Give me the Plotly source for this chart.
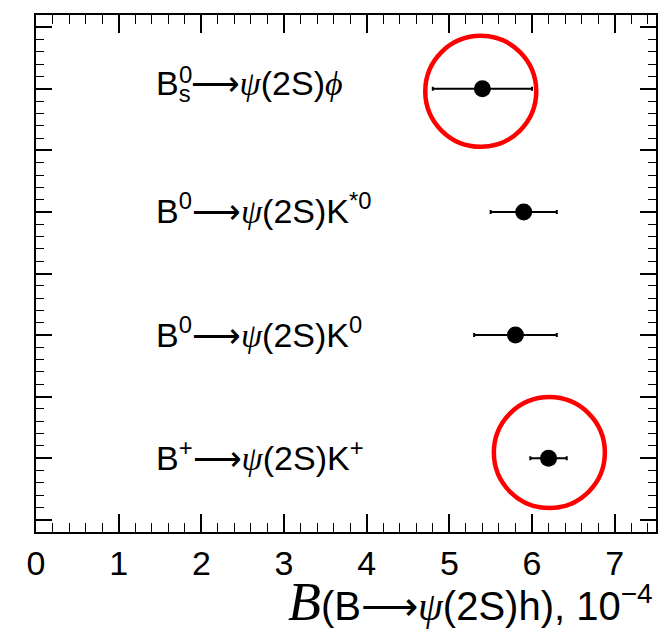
import plotly.graph_objects as go

# ---- data ----
decays = ["B+", "B0K0", "B0Kst0", "Bs"]
PSI = "<span style=\"font-family:'Liberation Serif'\"><i>ψ</i></span>"
PHI = "<span style=\"font-family:'Liberation Serif'\"><i>ϕ</i></span>"
labels = [
    "B<sup>+</sup>⟶" + PSI + "(2S)K<sup>+</sup>",
    "B<sup>0</sup>⟶" + PSI + "(2S)K<sup>0</sup>",
    "B<sup>0</sup>⟶" + PSI + "(2S)K<sup>*0</sup>",
    "B<sub>s</sub>⟶" + PSI + "(2S)" + PHI,
]
row_pos = [1, 2, 3, 4]
bf_values = [6.2, 5.8, 5.9, 5.4]
bf_errors = [0.22, 0.5, 0.4, 0.6]
circle_x = [6.21, 5.38]
circle_y = [1.045, 3.98]
x_ticks = [0, 1, 2, 3, 4, 5, 6, 7]

fig = go.Figure()

fig.add_trace(go.Scatter(
    x=bf_values, y=row_pos, mode="markers",
    marker=dict(color="black", size=17, line=dict(width=0)),
    error_x=dict(type="data", array=bf_errors, color="black", thickness=2, width=2),
    showlegend=False, hoverinfo="skip",
))

fig.add_trace(go.Scatter(
    x=circle_x, y=circle_y, mode="markers",
    marker=dict(symbol="circle-open", color="#ff0000", size=111,
                line=dict(width=4.5, color="#ff0000")),
    showlegend=False, hoverinfo="skip",
))

SANS = "Liberation Sans, Arial, sans-serif"
label_font = dict(family=SANS, size=34, color="black")
for y, t in zip(row_pos, labels):
    fig.add_annotation(x=1.43, y=y, xref="x", yref="y", text=t, showarrow=False,
                       xanchor="left", yanchor="middle", yshift=3, font=label_font)
# stacked superscript 0 above subscript s for B_s
fig.add_annotation(x=1.43, y=row_pos[3], xref="x", yref="y", text="0", showarrow=False,
                   xanchor="left", yanchor="middle", xshift=23, yshift=14,
                   font=dict(family=SANS, size=24, color="black"))

# x-axis title
fig.add_annotation(
    x=1, y=-0.135, xref="paper", yref="paper", xanchor="right", yanchor="middle",
    xshift=-1, showarrow=False,
    text=("<span style=\"font-family:'Liberation Serif';font-size:54px\"><i>B</i></span>"
          "(B⟶" + PSI + "(2S)h), 10<sup>−4</sup>"),
    font=dict(family=SANS, size=40, color="black"),
)

fig.update_layout(
    width=666, height=634,
    margin=dict(l=36, r=8, t=15, b=102),
    paper_bgcolor="white", plot_bgcolor="white",
    font=dict(family=SANS, color="black"),
    xaxis=dict(
        range=[0, 7.5], tickvals=x_ticks, ticktext=[str(v) for v in x_ticks],
        ticks="inside", ticklen=18, tickwidth=1.5, tickcolor="black",
        minor=dict(dtick=0.2, tick0=0, ticks="inside", ticklen=9, tickwidth=1.2, tickcolor="black"),
        showline=True, linecolor="black", linewidth=2, mirror="ticks",
        showgrid=False, zeroline=False,
        tickfont=dict(size=34, family=SANS, color="black"),
    ),
    yaxis=dict(
        range=[0.4, 4.6], tick0=0.5, dtick=0.5, showticklabels=False,
        ticks="inside", ticklen=16, tickwidth=1.5, tickcolor="black",
        minor=dict(dtick=0.1, tick0=0.4, ticks="inside", ticklen=8, tickwidth=1.2, tickcolor="black"),
        showline=True, linecolor="black", linewidth=2, mirror="ticks",
        showgrid=False, zeroline=False,
    ),
)

fig.write_html("out.html")
